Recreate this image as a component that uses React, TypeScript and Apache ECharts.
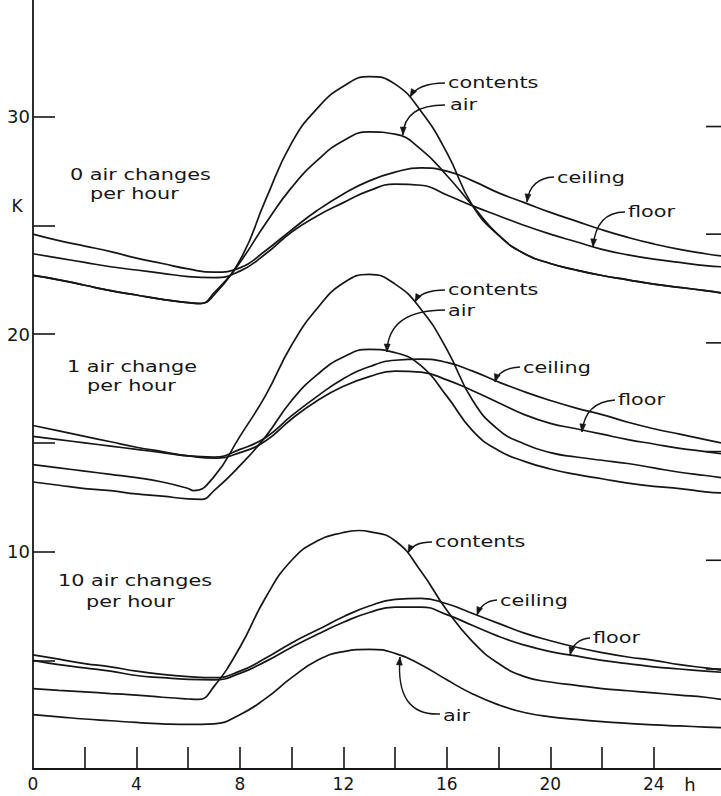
import { useEffect, useRef } from "react";
import * as echarts from "echarts";

// ---- axis ticks / labels ----
const hourTicks = [2, 4, 6, 8, 10, 12, 14, 16, 18, 20, 22, 24];
const hourLabels = [0, 4, 8, 12, 16, 20, 24];
const kelvinTicks = [5, 10, 15, 20, 25, 30];
const kelvinLabels = [10, 20, 30];
const rightKelvinTicks = [4.6, 9.6, 14.6, 19.6, 24.6, 29.55];
const hourMax = 26.6;
const kelvinMax = 35.37;

// ---- 0 air changes per hour  [h, K] ----
const contents0 = [[0, 22.7], [1, 22.5], [2, 22.25], [3, 22.0], [4, 21.8], [5, 21.6], [6, 21.45], [6.45, 21.4], [7, 21.9], [8, 23.4], [9, 26.2], [10, 28.8], [11, 30.4], [12, 31.4], [13, 31.85], [14, 31.5], [15, 30.25], [16, 28.35], [17, 25.9], [18, 24.55], [19, 23.7], [20, 23.25], [21, 22.95], [22, 22.7], [23, 22.5], [24, 22.3], [25, 22.15], [26, 22.0], [26.6, 21.9]];
const air0 = [[0, 22.7], [1, 22.5], [2, 22.25], [3, 22.0], [4, 21.8], [5, 21.6], [6, 21.45], [6.5, 21.42], [7, 21.8], [8, 23.3], [9, 25.1], [10, 26.75], [11, 28.0], [12, 28.9], [13, 29.3], [14, 29.2], [15, 28.5], [16, 27.3], [17, 25.9], [18, 24.55], [19, 23.7], [20, 23.25], [21, 22.95], [22, 22.7], [23, 22.5], [24, 22.3], [25, 22.15], [26, 22.0], [26.6, 21.9]];
const ceiling0 = [[0, 24.6], [1, 24.3], [2, 24.05], [3, 23.8], [4, 23.5], [5, 23.25], [6, 23.0], [7, 22.85], [8, 23.05], [9, 23.85], [10, 24.8], [11, 25.7], [12, 26.45], [13, 27.05], [14, 27.45], [15, 27.65], [16, 27.5], [17, 27.05], [18, 26.5], [19, 26.05], [20, 25.6], [21, 25.2], [22, 24.8], [23, 24.45], [24, 24.15], [25, 23.9], [26, 23.7], [26.6, 23.6]];
const floor0 = [[0, 23.7], [1, 23.5], [2, 23.3], [3, 23.1], [4, 22.95], [5, 22.8], [6, 22.65], [7, 22.6], [8, 22.9], [9, 23.7], [10, 24.7], [11, 25.45], [12, 26.05], [13, 26.6], [14, 26.9], [15, 26.85], [16, 26.4], [17, 25.9], [18, 25.45], [19, 25.0], [20, 24.6], [21, 24.25], [22, 23.9], [23, 23.65], [24, 23.45], [25, 23.3], [26, 23.15], [26.6, 23.1]];

// ---- 1 air change per hour ----
const contents1 = [[0, 14.0], [1, 13.85], [2, 13.7], [3, 13.55], [4, 13.4], [5, 13.2], [6, 12.9], [6.2, 12.8], [7, 13.45], [8, 15.3], [9, 17.2], [10, 19.5], [11, 21.2], [12, 22.35], [13, 22.75], [14, 22.3], [15, 21.15], [16, 19.3], [17, 16.95], [18, 15.6], [19, 14.95], [20, 14.55], [21, 14.35], [22, 14.2], [23, 14.05], [24, 13.85], [25, 13.65], [26, 13.5], [26.6, 13.4]];
const air1 = [[0, 13.2], [1, 13.05], [2, 12.9], [3, 12.8], [4, 12.65], [5, 12.55], [6, 12.42], [6.5, 12.4], [7, 12.8], [8, 13.95], [9, 15.3], [10, 16.95], [11, 18.15], [12, 18.95], [13, 19.3], [14, 19.15], [15, 18.55], [16, 17.15], [17, 15.55], [18, 14.65], [19, 14.15], [20, 13.8], [21, 13.55], [22, 13.35], [23, 13.15], [24, 13.0], [25, 12.9], [26, 12.75], [26.6, 12.7]];
const ceiling1 = [[0, 15.8], [1, 15.55], [2, 15.3], [3, 15.05], [4, 14.8], [5, 14.6], [6, 14.4], [7, 14.35], [8, 14.7], [9, 15.25], [10, 16.25], [11, 17.15], [12, 17.95], [13, 18.5], [14, 18.8], [15, 18.85], [16, 18.7], [17, 18.3], [18, 17.8], [19, 17.35], [20, 16.95], [21, 16.6], [22, 16.3], [23, 15.95], [24, 15.65], [25, 15.4], [26, 15.15], [26.6, 15.0]];
const floor1 = [[0, 15.3], [1, 15.15], [2, 15.0], [3, 14.85], [4, 14.7], [5, 14.55], [6, 14.4], [7, 14.3], [8, 14.55], [9, 15.1], [10, 16.1], [11, 16.95], [12, 17.6], [13, 18.05], [14, 18.3], [15, 18.25], [16, 17.9], [17, 17.4], [18, 16.85], [19, 16.3], [20, 15.9], [21, 15.65], [22, 15.4], [23, 15.15], [24, 14.95], [25, 14.75], [26, 14.6], [26.6, 14.5]];

// ---- 10 air changes per hour ----
const contents10 = [[0, 3.7], [1, 3.62], [2, 3.55], [3, 3.47], [4, 3.4], [5, 3.3], [6, 3.22], [6.4, 3.2], [7, 3.8], [8, 5.6], [9, 7.9], [10, 9.6], [11, 10.5], [12, 10.88], [12.6, 10.97], [13, 10.92], [14, 10.5], [15, 9.1], [16, 7.3], [17, 5.85], [18, 4.85], [19, 4.25], [20, 4.0], [21, 3.85], [22, 3.7], [23, 3.6], [24, 3.5], [25, 3.4], [26, 3.3], [26.6, 3.2]];
const air10 = [[0, 2.5], [1, 2.4], [2, 2.3], [3, 2.22], [4, 2.14], [5, 2.08], [6, 2.05], [7, 2.08], [8, 2.5], [9, 3.25], [10, 4.2], [11, 5.0], [12, 5.4], [13, 5.5], [14, 5.32], [15, 4.8], [16, 4.1], [17, 3.45], [18, 2.95], [19, 2.6], [20, 2.4], [21, 2.28], [22, 2.18], [23, 2.1], [24, 2.03], [25, 1.98], [26, 1.93], [26.6, 1.9]];
const ceiling10 = [[0, 5.25], [1, 5.05], [2, 4.85], [3, 4.7], [4, 4.5], [5, 4.35], [6, 4.25], [7, 4.2], [8, 4.5], [9, 5.1], [10, 5.8], [11, 6.4], [12, 7.0], [13, 7.5], [14, 7.8], [15, 7.85], [16, 7.6], [17, 7.15], [18, 6.7], [19, 6.25], [20, 5.9], [21, 5.6], [22, 5.35], [23, 5.15], [24, 5.0], [25, 4.8], [26, 4.65], [26.6, 4.55]];
const floor10 = [[0, 5.0], [1, 4.8], [2, 4.65], [3, 4.5], [4, 4.3], [5, 4.2], [6, 4.12], [7, 4.1], [8, 4.4], [9, 4.95], [10, 5.6], [11, 6.2], [12, 6.75], [13, 7.2], [14, 7.45], [15, 7.45], [16, 7.1], [17, 6.6], [18, 6.1], [19, 5.7], [20, 5.4], [21, 5.2], [22, 5.0], [23, 4.85], [24, 4.7], [25, 4.6], [26, 4.5], [26.6, 4.45]];

const allSeries = [
  { name: "contents 0", data: contents0 },
  { name: "air 0", data: air0 },
  { name: "ceiling 0", data: ceiling0 },
  { name: "floor 0", data: floor0 },
  { name: "contents 1", data: contents1 },
  { name: "air 1", data: air1 },
  { name: "ceiling 1", data: ceiling1 },
  { name: "floor 1", data: floor1 },
  { name: "contents 10", data: contents10 },
  { name: "air 10", data: air10 },
  { name: "ceiling 10", data: ceiling10 },
  { name: "floor 10", data: floor10 },
];

// ---- text annotations (layout) ----
const groupTitles = [
  { text: "0 air changes", x: 70, y: 174 },
  { text: "per hour", x: 90, y: 193 },
  { text: "1 air change", x: 67, y: 366 },
  { text: "per hour", x: 87, y: 385 },
  { text: "10 air changes", x: 58, y: 580 },
  { text: "per hour", x: 86, y: 601 },
];

const pointerNotes = [
  { text: "contents", tx: 448, ty: 82, sx: 445, sy: 83, cx: 418, cy: 83, ex: 410, ey: 97 },
  { text: "air", tx: 450, ty: 104, sx: 445, sy: 105, cx: 404, cy: 105, ex: 403, ey: 135 },
  { text: "ceiling", tx: 557, ty: 177, sx: 554, sy: 177, cx: 530, cy: 178, ex: 527, ey: 202 },
  { text: "floor", tx: 628, ty: 211, sx: 625, sy: 212, cx: 596, cy: 212, ex: 593, ey: 247 },
  { text: "contents", tx: 448, ty: 289, sx: 445, sy: 290, cx: 421, cy: 290, ex: 415, ey: 302 },
  { text: "air", tx: 448, ty: 310, sx: 445, sy: 310, cx: 388, cy: 310, ex: 387, ey: 352 },
  { text: "ceiling", tx: 523, ty: 367, sx: 520, sy: 367, cx: 499, cy: 368, ex: 495, ey: 382 },
  { text: "floor", tx: 618, ty: 399, sx: 615, sy: 400, cx: 585, cy: 402, ex: 582, ey: 432 },
  { text: "contents", tx: 435, ty: 541, sx: 432, sy: 542, cx: 413, cy: 542, ex: 408, ey: 553 },
  { text: "ceiling", tx: 500, ty: 600, sx: 497, sy: 600, cx: 482, cy: 601, ex: 477, ey: 615 },
  { text: "floor", tx: 593, ty: 637, sx: 590, sy: 638, cx: 574, cy: 639, ex: 570, ey: 655 },
  { text: "air", tx: 443, ty: 715, sx: 440, sy: 714, cx: 395, cy: 716, ex: 400, ey: 657 },
];

const INK = "#161616";
const FONT = "DejaVu Sans";

function buildGraphics(rightTickYs: number[]) {
  const els: any[] = [];
  const textEl = (text: string, x: number, y: number) => ({
    type: "text",
    x,
    y,
    scaleX: 1.3,
    silent: true,
    style: {
      text,
      x: 0,
      y: 0,
      fill: INK,
      fontSize: 16,
      fontFamily: FONT,
      textAlign: "left",
      textVerticalAlign: "middle",
      align: "left",
      verticalAlign: "middle",
    },
  });
  groupTitles.forEach((t) => els.push(textEl(t.text, t.x, t.y)));
  pointerNotes.forEach((n) => {
    els.push(textEl(n.text, n.tx, n.ty));
    els.push({
      type: "bezierCurve",
      silent: true,
      shape: { x1: n.sx, y1: n.sy, cpx1: n.cx, cpy1: n.cy, x2: n.ex, y2: n.ey },
      style: { stroke: INK, lineWidth: 1.4, fill: null },
    });
    let dx = n.ex - n.cx;
    let dy = n.ey - n.cy;
    const len = Math.hypot(dx, dy) || 1;
    dx /= len;
    dy /= len;
    const L = 8;
    const W = 3;
    const bx = n.ex - dx * L;
    const by = n.ey - dy * L;
    els.push({
      type: "polygon",
      silent: true,
      shape: {
        points: [
          [n.ex, n.ey],
          [bx - dy * W, by + dx * W],
          [bx + dy * W, by - dx * W],
        ],
      },
      style: { fill: INK, stroke: INK, lineWidth: 0.5 },
    });
  });
  rightTickYs.forEach((y) => {
    els.push({
      type: "line",
      silent: true,
      shape: { x1: 706, y1: y, x2: 721, y2: y },
      style: { stroke: INK, lineWidth: 1.6 },
    });
  });
  els.push({
    type: "text",
    x: 17,
    y: 206,
    silent: true,
    style: { text: "K", fill: INK, fontSize: 17, fontFamily: FONT, textAlign: "center", textVerticalAlign: "middle", align: "center", verticalAlign: "middle" },
  });
  els.push({
    type: "text",
    x: 690,
    y: 784,
    silent: true,
    style: { text: "h", fill: INK, fontSize: 18, fontFamily: FONT, textAlign: "center", textVerticalAlign: "middle", align: "center", verticalAlign: "middle" },
  });
  return els;
}

export default function App() {
  const ref = useRef<HTMLDivElement>(null);
  useEffect(() => {
    document.body.style.margin = "0";
    if (!ref.current) return;
    const chart = echarts.init(ref.current, undefined, { renderer: "svg" });
    chart.setOption({
      animation: false,
      backgroundColor: "#ffffff",
      grid: { left: 33, right: 0, top: 0, bottom: 27, containLabel: false },
      xAxis: {
        type: "value",
        min: 0,
        max: hourMax,
        interval: 2,
        axisLine: { show: true, onZero: false, lineStyle: { color: INK, width: 1.8 } },
        axisTick: { show: true, inside: true, length: 22, customValues: hourTicks, lineStyle: { color: INK, width: 1.6 } },
        axisLabel: {
          show: true,
          customValues: hourLabels,
          margin: 6,
          color: INK,
          fontSize: 17,
          fontFamily: FONT,
          formatter: (v: number) => (v % 4 === 0 ? String(v) : ""),
        },
        splitLine: { show: false },
      },
      yAxis: {
        type: "value",
        min: 0,
        max: kelvinMax,
        interval: 5,
        axisLine: { show: true, onZero: false, lineStyle: { color: INK, width: 1.8 } },
        axisTick: { show: true, inside: true, length: 22, customValues: kelvinTicks, lineStyle: { color: INK, width: 1.6 } },
        axisLabel: {
          show: true,
          customValues: kelvinLabels,
          margin: 3,
          color: INK,
          fontSize: 18,
          fontFamily: FONT,
          formatter: (v: number) => (v % 10 === 0 && v > 0 ? String(v) : ""),
        },
        splitLine: { show: false },
      },
      series: allSeries.map((s) => ({
        name: s.name,
        type: "line",
        data: s.data,
        smooth: 0.5,
        symbol: "none",
        showSymbol: false,
        silent: true,
        lineStyle: { color: INK, width: 1.7 },
        z: 3,
      })),
    });
    const rightTickYs = rightKelvinTicks.map((v) => chart.convertToPixel({ yAxisIndex: 0 }, v) as number);
    chart.setOption({ graphic: buildGraphics(rightTickYs) });
    return () => chart.dispose();
  }, []);
  return <div ref={ref} style={{ width: 721, height: 796 }} />;
}
